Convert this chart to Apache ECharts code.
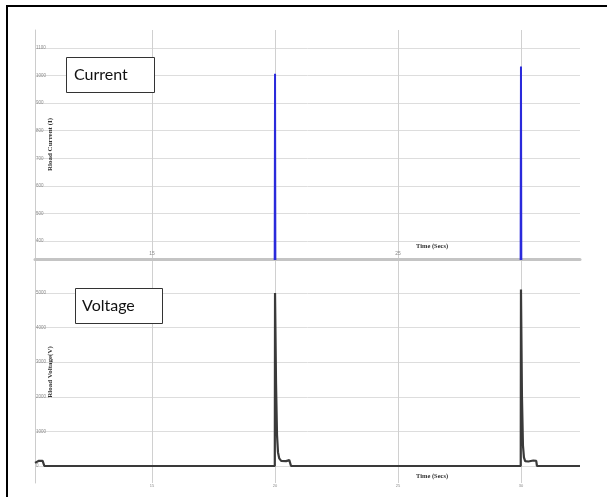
<!DOCTYPE html>
<html>
<head>
<meta charset="utf-8">
<script src="https://cdn.jsdelivr.net/npm/echarts@6/dist/echarts.min.js"></script>
<style>
html,body{margin:0;padding:0;background:#fff;}
#chart{width:607px;height:497px;}
</style>
</head>
<body>
<div id="chart"></div>
<script>
// ---- data ----
const xTicks = [15, 20, 25, 30];
const xLabelsTop = [15, 25];
const currentTicks = [400, 500, 600, 700, 800, 900, 1000, 1100];
const voltageTicks = [0, 1000, 2000, 3000, 4000, 5000];

const currentTime  = [10.24, 19.98, 20.0, 20.02, 29.98, 30.0, 30.02, 32.4];
const currentValue = [0,     0,     1007, 0,     0,     1033, 0,     0];

const voltageTime  = [10.24, 10.3, 10.4, 10.55, 10.6, 10.62, 19.99, 20.0, 20.04, 20.08, 20.12, 20.17, 20.25, 20.45, 20.58, 20.62, 20.65, 29.99, 30.0, 30.04, 30.08, 30.12, 30.17, 30.3, 30.5, 30.58, 30.62, 30.65, 32.4];
const voltageValue = [90,    140,  150,  150,   130,  0,     0,     5000, 2400,  900,   400,   220,   150,   140,   170,   160,   0,     0,     5100, 2000,  600,   250,   140,   130,  160,  170,   150,   0,     0];

const xMin = 10.24, xMax = 32.4;

function pairs(t, v) { return t.map((x, i) => [x, v[i]]); }
const plain = v => String(v);

const chart = echarts.init(document.getElementById('chart'), null, {renderer: 'canvas'});
const labelFont = {fontFamily: 'Liberation Sans', color: '#8a8a8a', formatter: plain};
const nameFont = {fontFamily: 'Liberation Serif', fontWeight: 'bold', fontSize: 7, color: '#333'};

chart.setOption({
  animation: false,
  backgroundColor: '#fff',
  grid: [
    {left: 35, right: 27, top: 30, height: 229},
    {left: 35, right: 27, top: 261, height: 222}
  ],
  xAxis: [
    {
      gridIndex: 0, type: 'value', min: xMin, max: xMax,
      axisLine: {show: true, onZero: false, lineStyle: {color: '#c4c4c4', width: 3}},
      axisTick: {show: false, customValues: xTicks},
      axisLabel: Object.assign({inside: true, fontSize: 5, margin: 3, customValues: xLabelsTop}, labelFont),
      splitLine: {show: true, lineStyle: {color: '#d0d0d0', width: 1}}
    },
    {
      gridIndex: 1, type: 'value', min: xMin, max: xMax,
      axisLine: {show: false},
      axisTick: {show: false, customValues: xTicks},
      axisLabel: Object.assign({fontSize: 4, margin: 1, customValues: xTicks}, labelFont),
      splitLine: {show: true, lineStyle: {color: '#d0d0d0', width: 1}}
    }
  ],
  yAxis: [
    {
      gridIndex: 0, type: 'value', min: 334.7, max: 1165.3,
      name: 'Rload Current (I)', nameLocation: 'middle', nameGap: -19, nameRotate: 90,
      nameMoveOverlap: false,
      nameTextStyle: nameFont,
      axisLine: {show: true, lineStyle: {color: '#cccccc', width: 1}},
      axisTick: {show: false, customValues: currentTicks},
      axisLabel: Object.assign({inside: true, fontSize: 4.5, margin: 1, customValues: currentTicks}, labelFont),
      splitLine: {show: true, lineStyle: {color: '#dddddd', width: 1}}
    },
    {
      gridIndex: 1, type: 'value', min: -491, max: 5925,
      name: 'Rload Voltage(V)', nameLocation: 'middle', nameGap: -19, nameRotate: 90,
      nameMoveOverlap: false,
      nameTextStyle: nameFont,
      axisLine: {show: true, lineStyle: {color: '#cccccc', width: 1}},
      axisTick: {show: false, customValues: voltageTicks},
      axisLabel: Object.assign({inside: true, fontSize: 4.5, margin: 1, customValues: voltageTicks}, labelFont),
      splitLine: {show: true, lineStyle: {color: '#dddddd', width: 1}}
    }
  ],
  series: [
    {
      type: 'line', xAxisIndex: 0, yAxisIndex: 0, showSymbol: false, clip: true,
      data: pairs(currentTime, currentValue),
      lineStyle: {color: '#2a2adb', width: 2}
    },
    {
      type: 'line', xAxisIndex: 1, yAxisIndex: 1, showSymbol: false, clip: true,
      data: pairs(voltageTime, voltageValue),
      lineStyle: {color: '#3a3a3a', width: 2.2}
    }
  ],
  graphic: [
    {type: 'rect', shape: {x: 7, y: 6, width: 640, height: 520}, style: {fill: 'none', stroke: '#000', lineWidth: 2}, silent: true},
    {type: 'rect', shape: {x: 66.5, y: 57.5, width: 88, height: 35}, style: {fill: '#fff', stroke: '#333', lineWidth: 1}, z: 100},
    {type: 'text', x: 74, y: 75, z: 101, style: {text: 'Current', font: '16px Lato', fill: '#111', textVerticalAlign: 'middle'}},
    {type: 'rect', shape: {x: 75.5, y: 288.5, width: 87, height: 35}, style: {fill: '#fff', stroke: '#333', lineWidth: 1}, z: 100},
    {type: 'text', x: 82, y: 306, z: 101, style: {text: 'Voltage', font: '16px Lato', fill: '#111', textVerticalAlign: 'middle'}},
    {type: 'text', x: 416, y: 246, z: 101, style: {text: 'Time (Secs)', font: 'bold 6.5px "Liberation Serif"', fill: '#333', textVerticalAlign: 'middle'}},
    {type: 'text', x: 416, y: 476, z: 101, style: {text: 'Time (Secs)', font: 'bold 6.5px "Liberation Serif"', fill: '#333', textVerticalAlign: 'middle'}}
  ]
});
</script>
</body>
</html>
